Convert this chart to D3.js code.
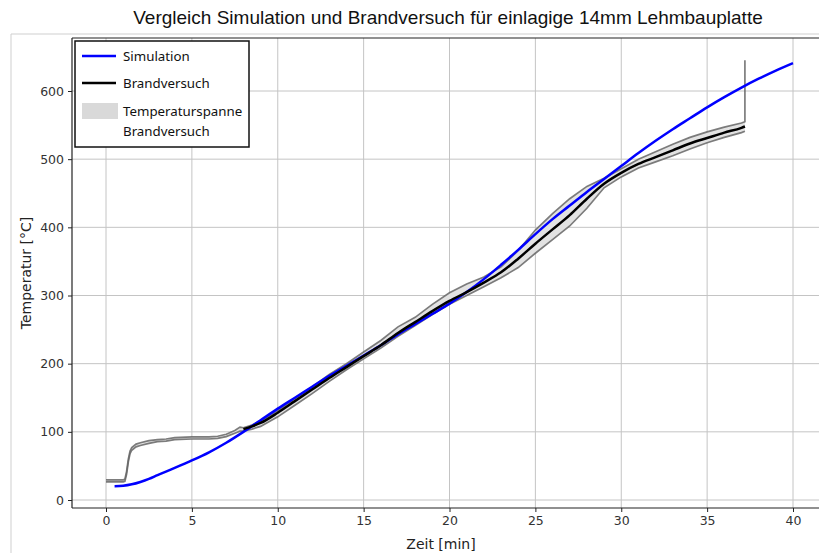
<!DOCTYPE html>
<html>
<head>
<meta charset="utf-8">
<script src="https://cdn.jsdelivr.net/npm/d3@7"></script>
<style>
  body { margin: 0; background: #fff; }
  svg { display: block; }
</style>
</head>
<body>
<div id="chart"></div>
<script>
// --- Data ---
// Simulation (time in min, temperature in °C)
const simTime = [0.5, 1, 1.5, 2, 2.5, 3, 4, 5, 6, 7, 8, 9, 10, 11, 12, 13, 14, 15, 16, 17, 18, 19, 20,
  21, 22, 23, 24, 25, 26, 27, 28, 29, 30, 31, 32, 33, 34, 35, 36, 37, 38, 39, 40];
const simTemp = [20, 20.8, 23, 26.5, 31, 36.5, 47, 58, 70, 84, 100, 117, 134, 150, 166, 182, 197, 212, 227, 243, 258, 273, 288,
  305, 324, 345, 367, 390, 412, 432, 452, 471, 490, 509, 527, 544, 560, 576, 591, 605, 618, 630, 641];

// Brandversuch: mean plus min/max span of the thermocouples
const testTime = [0, 0.5, 1, 1.1, 1.2, 1.3, 1.4, 1.5, 1.75, 2, 2.5, 3, 3.5, 4, 5, 6, 6.5, 7, 7.5, 7.8, 8, 8.5, 9,
  10, 11, 12, 13, 14, 15, 16, 17, 18, 19, 20, 21, 22, 23, 24, 25, 26, 27, 28, 29, 30, 31, 32, 33, 34, 35, 36, 37, 37.2, 37.2];
const testMean = [28, 28, 28, 29, 40, 58, 70, 75, 80, 82, 85, 87, 88, 90, 91, 91, 92, 95, 100, 104, 104, 108, 113,
  128, 145, 162, 179, 195, 211, 227, 245, 261, 277, 292, 305, 319, 334, 354, 376, 397, 418, 442, 464, 480, 493, 503, 513, 523, 531, 539, 546, 548, 548];
const testUpper = [29.5, 29.5, 29.5, 30.5, 42, 60, 72, 77, 82, 84, 87, 88.5, 89.5, 91.5, 92.5, 92.5, 93.5, 96.5, 102, 107, 106, 110, 116,
  131, 149, 166, 184, 200, 217, 234, 254, 268, 287, 304, 317, 327, 342, 366, 396, 420, 442, 460, 472, 486, 500, 511, 522, 532, 540, 547, 553, 555, 645];
const testLower = [26.5, 26.5, 26.5, 27.5, 38, 56, 68, 73, 78, 80, 83, 85.5, 86.5, 88.5, 89.5, 89.5, 90.5, 93, 98, 101, 101, 104, 108,
  122, 139, 156, 174, 191, 207, 223, 240, 256, 272, 287, 300, 313, 326, 341, 362, 382, 402, 428, 458, 474, 487, 496, 505, 515, 524, 532, 539, 541, 541];

const xTicks = [0, 5, 10, 15, 20, 25, 30, 35, 40];
const yTicks = [0, 100, 200, 300, 400, 500, 600];

// --- Configuration ---
const width = 819, height = 553;
const plot = { left: 72, top: 38, right: 828, bottom: 508 };
const meanStart = 8; // below this the mean disappears inside the narrow span

const svg = d3.select("#chart").append("svg")
  .attr("width", width).attr("height", height);

// outer frame of the figure
svg.append("path")
  .attr("d", `M11,${height} L11,34 L${width},34`)
  .attr("fill", "none").attr("stroke", "#cfcfcf").attr("stroke-width", 1);

// --- Scales ---
const x = d3.scaleLinear().domain([0, 40]).range([106, 793]);
const y = d3.scaleLinear().domain([0, 600]).range([500, 91]);

svg.append("clipPath").attr("id", "clip")
  .append("rect")
  .attr("x", plot.left).attr("y", plot.top)
  .attr("width", plot.right - plot.left).attr("height", plot.bottom - plot.top);

// --- Grid ---
const grid = svg.append("g").attr("clip-path", "url(#clip)");
grid.selectAll(".gx").data(xTicks).join("line")
  .attr("x1", d => x(d)).attr("x2", d => x(d))
  .attr("y1", plot.top).attr("y2", plot.bottom)
  .attr("stroke", "#c4c4c4").attr("stroke-width", 1);
grid.selectAll(".gy").data(yTicks).join("line")
  .attr("x1", plot.left).attr("x2", plot.right)
  .attr("y1", d => y(d)).attr("y2", d => y(d))
  .attr("stroke", "#c4c4c4").attr("stroke-width", 1);

// --- Series ---
const test = testTime.map((t, i) => ({ t, mean: testMean[i], lo: testLower[i], hi: testUpper[i] }));
const sim = simTime.map((t, i) => ({ t, v: simTemp[i] }));

const marks = svg.append("g").attr("clip-path", "url(#clip)");

// span between min and max (without the final spike)
const span = test.slice(0, -1);
marks.append("path")
  .datum(span)
  .attr("fill", "#e2e2e2")
  .attr("d", d3.area().x(d => x(d.t)).y0(d => y(d.lo)).y1(d => y(d.hi)));

const edge = "#666";
marks.append("path")
  .datum(test)
  .attr("fill", "none").attr("stroke", edge).attr("stroke-width", 1.7).attr("stroke-opacity", 0.85)
  .attr("d", d3.line().x(d => x(d.t)).y(d => y(d.hi)));
marks.append("path")
  .datum(span)
  .attr("fill", "none").attr("stroke", edge).attr("stroke-width", 1.7).attr("stroke-opacity", 0.85)
  .attr("d", d3.line().x(d => x(d.t)).y(d => y(d.lo)));

marks.append("path")
  .datum(sim)
  .attr("fill", "none").attr("stroke", "#0000ff").attr("stroke-width", 2.5)
  .attr("d", d3.line().curve(d3.curveMonotoneX).x(d => x(d.t)).y(d => y(d.v)));

marks.append("path")
  .datum(span.filter(d => d.t >= meanStart))
  .attr("fill", "none").attr("stroke", "#000").attr("stroke-width", 2.5)
  .attr("d", d3.line().curve(d3.curveMonotoneX).x(d => x(d.t)).y(d => y(d.mean)));

// --- Axes ---
const xAxis = svg.append("g")
  .attr("transform", `translate(0,${plot.bottom})`)
  .call(d3.axisBottom(x).tickValues(xTicks).tickSize(4).tickPadding(4));
const yAxis = svg.append("g")
  .attr("transform", `translate(${plot.left},0)`)
  .call(d3.axisLeft(y).tickValues(yTicks).tickSize(4).tickPadding(4));

[xAxis, yAxis].forEach(g => {
  g.select(".domain").remove();
  g.selectAll(".tick line").attr("stroke", "#222");
  g.selectAll("text").attr("fill", "#333").attr("font-size", "12.5px")
    .attr("font-family", "DejaVu Sans, sans-serif");
});

// spines
svg.append("line").attr("x1", plot.left).attr("x2", plot.left)
  .attr("y1", plot.top).attr("y2", plot.bottom).attr("stroke", "#222").attr("stroke-width", 1.2);
svg.append("line").attr("x1", plot.left).attr("x2", width)
  .attr("y1", plot.bottom).attr("y2", plot.bottom).attr("stroke", "#222").attr("stroke-width", 1.2);
svg.append("line").attr("x1", plot.left).attr("x2", width)
  .attr("y1", plot.top).attr("y2", plot.top).attr("stroke", "#222").attr("stroke-width", 1.2);

// --- Labels ---
svg.append("text")
  .attr("x", 448).attr("y", 24)
  .attr("text-anchor", "middle")
  .attr("font-family", "Liberation Sans, Arial, sans-serif").attr("font-size", "19px").attr("fill", "#111")
  .text("Vergleich Simulation und Brandversuch für einlagige 14mm Lehmbauplatte");

svg.append("text")
  .attr("x", 441).attr("y", 549)
  .attr("text-anchor", "middle")
  .attr("font-family", "DejaVu Sans, sans-serif").attr("font-size", "14px").attr("fill", "#222")
  .text("Zeit [min]");

svg.append("text")
  .attr("transform", `translate(31,273) rotate(-90)`)
  .attr("text-anchor", "middle")
  .attr("font-family", "DejaVu Sans, sans-serif").attr("font-size", "14px").attr("fill", "#222")
  .text("Temperatur [°C]");

// --- Legend ---
const legend = svg.append("g").attr("transform", "translate(75,41)");
legend.append("rect")
  .attr("width", 174).attr("height", 106)
  .attr("fill", "#fff").attr("stroke", "#111").attr("stroke-width", 1.5);

const legendFont = "Noto Sans, Open Sans, sans-serif";
legend.append("line").attr("x1", 7).attr("x2", 41).attr("y1", 15).attr("y2", 15)
  .attr("stroke", "#0000ff").attr("stroke-width", 2.5);
legend.append("line").attr("x1", 7).attr("x2", 41).attr("y1", 42).attr("y2", 42)
  .attr("stroke", "#000").attr("stroke-width", 2.5);
legend.append("rect").attr("x", 7).attr("y", 62).attr("width", 36).attr("height", 16)
  .attr("fill", "#d9d9d9");

const legendText = [["Simulation", 19.5], ["Brandversuch", 47], ["Temperaturspanne", 75], ["Brandversuch", 95]];
legend.selectAll(".lt").data(legendText).join("text")
  .attr("x", 48).attr("y", d => d[1])
  .attr("font-family", legendFont).attr("font-size", "13.3px").attr("fill", "#111")
  .text(d => d[0]);
</script>
</body>
</html>
